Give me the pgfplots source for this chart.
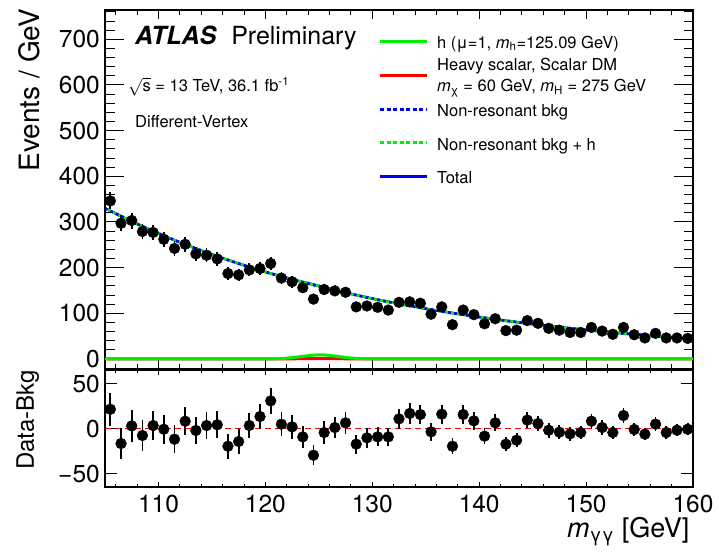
\documentclass[border=0pt]{standalone}
\usepackage{fontspec}
\setmainfont{TeX Gyre Heros}
\usepackage{pgfplots}
\usepackage{pgfplotstable}
\pgfplotsset{compat=1.18}

\definecolor{hgreen}{RGB}{0,240,0}
\definecolor{sred}{RGB}{255,0,0}
\definecolor{bblue}{RGB}{0,0,255}

\newcommand\tickfont{\fontsize{24.5}{29}\selectfont}
\newcommand\legfont{\fontsize{16.5}{20}\selectfont}

% diphoton candidates per 1 GeV bin: centre, events, stat. error, data - bkg
\pgfplotstableread{
x y e r
105.5 346 18.6 21.4
106.5 297 17.2 -16.7
107.5 303 17.4 2.9
108.5 279 16.7 -7.8
109.5 277 16.6 3.3
110.5 262 16.2 -0.8
111.5 242 15.6 -11.9
112.5 251 15.8 8.1
113.5 230 15.2 -2.2
114.5 227 15.1 3.3
115.5 219 14.8 4.1
116.5 187 13.7 -19.7
117.5 184 13.6 -14.5
118.5 195 14.0 3.3
119.5 198 14.1 13.3
120.5 209 14.5 30.7
121.5 177 13.3 4.8
122.5 169 13.0 1.8
123.5 156 12.5 -9.3
124.5 131 11.4 -29.7
125.5 152 12.3 -4.5
126.5 149 12.2 1.1
127.5 146 12.1 6.3
128.5 114 10.7 -17.4
129.5 116 10.8 -10.4
130.5 113 10.6 -9.3
131.5 107 10.3 -9.3
132.5 124 11.1 10.7
133.5 125 11.2 16.7
134.5 122 11.0 15.5
135.5 98 9.9 -3.7
136.5 114 10.7 15.9
137.5 75 8.7 -19.7
138.5 107 10.3 15.5
139.5 97 9.8 8.5
140.5 77 8.8 -8.5
141.5 88 9.4 6.3
142.5 62 7.9 -17.4
143.5 63 7.9 -13.0
144.5 84 9.2 9.3
145.5 78 8.8 5.5
146.5 67 8.2 -1.9
147.5 63 7.9 -4.1
148.5 58 7.6 -6.0
149.5 58 7.6 -4.5
150.5 69 8.3 8.1
151.5 61 7.8 1.1
152.5 54 7.3 -4.5
153.5 69 8.3 14.4
154.5 53 7.3 -1.1
155.5 46 6.8 -6.3
156.5 56 7.5 4.8
157.5 46 6.8 -4.5
158.5 46 6.8 -1.9
159.5 45 6.7 -0.8
}\events

% fitted shapes: non-resonant bkg, bkg + h, total
\pgfplotstableread{
x b bh tot
105 330.0 330.0 330.0
107.5 301.2 301.2 301.2
110 274.8 274.8 274.8
112.5 250.8 250.8 250.8
115 228.9 228.9 228.9
117.5 208.9 208.9 208.9
120 190.6 190.6 190.6
122.5 174.0 174.3 174.4
125 158.7 159.8 160.1
127.5 144.9 145.3 145.4
130 132.2 132.2 132.2
132.5 120.6 120.6 120.6
135 110.1 110.1 110.1
137.5 100.5 100.5 100.5
140 91.7 91.7 91.7
142.5 83.7 83.7 83.7
145 76.4 76.4 76.4
147.5 69.7 69.7 69.7
150 63.6 63.6 63.6
152.5 58.0 58.0 58.0
155 53.0 53.0 53.0
157.5 48.3 48.3 48.3
160 44.1 44.1 44.1
}\shapes

% resonant components: SM h and heavy scalar
\pgfplotstableread{
x h s
105 0 0
118 0 0
119 0.01 0.00
120 0.10 0.01
120.5 0.23 0.03
121 0.49 0.05
121.5 0.96 0.11
122 1.71 0.19
122.5 2.79 0.31
123 4.19 0.46
123.5 5.78 0.64
124 7.30 0.80
124.5 8.46 0.93
125 8.98 0.99
125.5 8.75 0.96
126 7.82 0.86
126.5 6.41 0.71
127 4.82 0.53
127.5 3.32 0.37
128 2.10 0.23
128.5 1.22 0.13
129 0.65 0.07
129.5 0.32 0.04
130 0.14 0.02
130.5 0.06 0.01
131 0.02 0.00
132 0 0
160 0 0
}\signals

\pgfplotsset{
  panel/.style={
    scale only axis, width=588pt,
    xmin=105, xmax=160,
    axis line style={line width=1.3pt},
    tick align=inside,
    tick style={black, line width=0.9pt},
    ticklabel style={font=\tickfont},
    /pgf/number format/assume math mode=true,
    xtick={110,120,...,160},
    minor xtick={106,108,...,160},
    clip mode=individual,
  },
  datapts/.style={only marks, mark=*, mark size=5.4pt, black,
    mark options={fill=black, draw=black},
    error bars/.cd, y dir=both, y explicit,
    error bar style={line width=1.8pt, black}, error mark=none},
}

\begin{document}
\begin{tikzpicture}
\useasboundingbox (0pt,0pt) rectangle (719pt,556pt);

% main panel
\begin{axis}[panel,
  at={(105pt,187pt)}, anchor=south west,
  height=359pt,
  ymin=-22, ymax=764,
  ytick={0,100,...,700},
  minor ytick={0,20,...,760},
  xticklabels=\empty,
  xtick style={/pgfplots/major tick length=9.5pt,/pgfplots/minor tick length=5pt},
  ytick style={/pgfplots/major tick length=19pt,/pgfplots/minor tick length=9.5pt},
  yticklabel style={inner sep=0pt, xshift=-5pt},
  ylabel={Events / GeV},
  ylabel style={font=\fontsize{28}{33}\selectfont, at={(axis description cs:-0.112,1.014)}, anchor=base east, rotate=0},
]
\addplot[sred, line width=3pt] table[x=x, y=s] {\signals};
\addplot[hgreen, line width=3pt] table[x=x, y=h] {\signals};
\addplot[bblue, line width=2.6pt, smooth] table[x=x, y=tot] {\shapes};
\addplot[bblue, line width=2.6pt, smooth, dash pattern=on 3pt off 3pt] table[x=x, y=b] {\shapes};
\addplot[hgreen, line width=2.6pt, smooth, dash pattern=on 3pt off 3pt, dash phase=3pt] table[x=x, y=bh] {\shapes};
\addplot[datapts] table[x=x, y=y, y error=e] {\events};

\node[anchor=base west, inner sep=0pt] at (rel axis cs:0.051,0.9025)
  {\fontsize{25}{30}\selectfont\bfseries\itshape ATLAS\hspace{15pt}\normalfont\fontsize{25}{30}\selectfont Preliminary};
\node[anchor=base west, inner sep=0pt, font=\legfont] at (rel axis cs:0.039,0.7716)
  {$\sqrt{\mbox{s}}$ = 13 TeV, 36.1 fb\textsuperscript{-1}};
\node[anchor=base west, inner sep=0pt, font=\legfont] at (rel axis cs:0.051,0.672) {Different-Vertex};

% legend
\draw[hgreen, line width=3pt] (rel axis cs:0.4677,0.9117) -- (rel axis cs:0.5476,0.9117);
\draw[sred, line width=3pt] (rel axis cs:0.4677,0.8189) -- (rel axis cs:0.5476,0.8189);
\draw[bblue, line width=3pt, dash pattern=on 4pt off 2.5pt] (rel axis cs:0.4677,0.7234) -- (rel axis cs:0.5476,0.7234);
\draw[hgreen, line width=3pt, dash pattern=on 4pt off 2.5pt] (rel axis cs:0.4677,0.6304) -- (rel axis cs:0.5476,0.6304);
\draw[bblue, line width=3pt] (rel axis cs:0.4677,0.5357) -- (rel axis cs:0.5476,0.5357);
\begin{scope}[every node/.style={anchor=base west, inner sep=0pt, font=\legfont}]
\node at (rel axis cs:0.5646,0.8933) {h (μ=1, \textit{m}\textsubscript{h}=125.09 GeV)};
\node at (rel axis cs:0.5646,0.8309) {Heavy scalar, Scalar DM};
\node at (rel axis cs:0.5646,0.7724) {\textit{m}\textsubscript{χ} = 60 GeV, \textit{m}\textsubscript{H} = 275 GeV};
\node at (rel axis cs:0.5646,0.7028) {Non-resonant bkg};
\node at (rel axis cs:0.5646,0.6100) {Non-resonant bkg + h};
\node at (rel axis cs:0.5646,0.5173) {Total};
\end{scope}
\end{axis}

% residual panel
\begin{axis}[panel,
  at={(105pt,69pt)}, anchor=south west,
  height=117pt,
  ymin=-65, ymax=65,
  ytick={-50,0,50},
  yticklabels={−50,0,50},
  xtick style={/pgfplots/major tick length=5.3pt,/pgfplots/minor tick length=3pt},
  ytick style={/pgfplots/major tick length=12pt},
  yticklabel style={inner sep=0pt, xshift=-5pt},
  xticklabel style={inner sep=0pt, yshift=-8pt},
  ylabel={Data-Bkg},
  ylabel style={font=\fontsize{24}{29}\selectfont, at={(axis description cs:-0.121,0.573)}, anchor=base},
  xlabel={\textit{m}\textsubscript{γγ} [GeV]},
  xlabel style={font=\fontsize{27}{32}\selectfont, at={(axis description cs:1,0)}, anchor=base east, yshift=-51pt},
]
\addplot[sred, line width=1.3pt, dash pattern=on 6pt off 4pt] coordinates {(105,0) (160,0)};
\addplot[datapts] table[x=x, y=r, y error=e] {\events};
\end{axis}
\end{tikzpicture}
\end{document}
